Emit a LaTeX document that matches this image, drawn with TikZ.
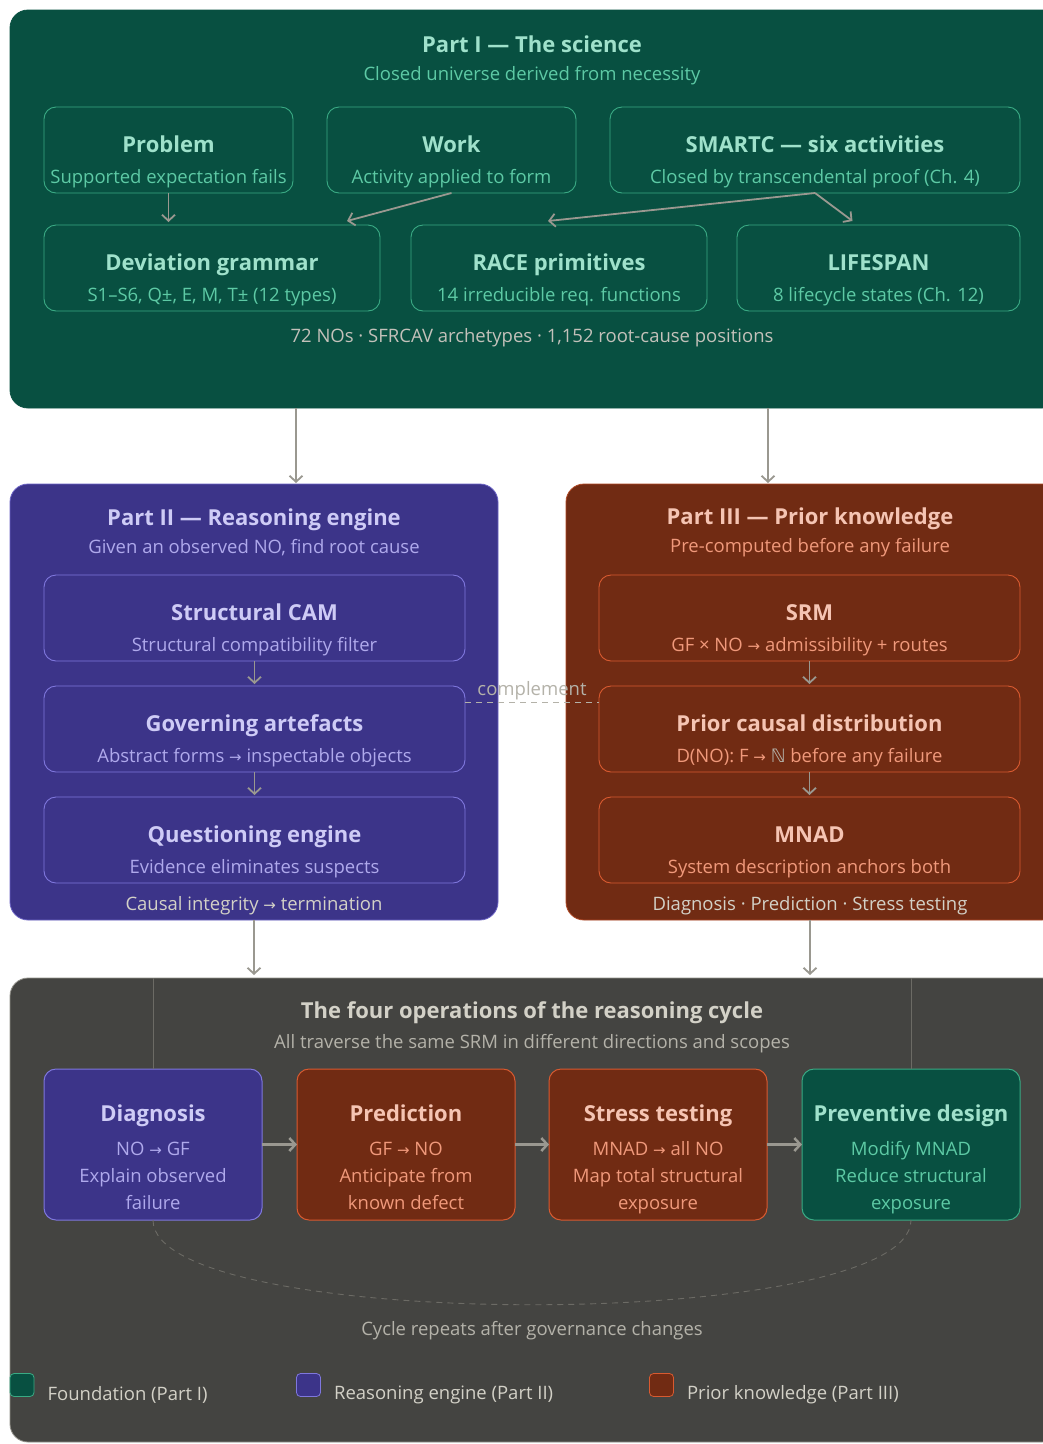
\documentclass[tikz,border=0pt]{standalone}
\usepackage{fontspec}
\setmainfont{Open Sans}
\newfontfamily\symf{DejaVu Sans}
\usetikzlibrary{arrows.meta,positioning}

\definecolor{tealbg}{HTML}{085041}
\definecolor{teallt}{HTML}{9FE1CB}
\definecolor{tealmd}{HTML}{5DCAA5}
\definecolor{tealln}{HTML}{3AAA84}
\definecolor{purbg}{HTML}{3C3489}
\definecolor{purlt}{HTML}{CECBF6}
\definecolor{purmd}{HTML}{AFA9EC}
\definecolor{purln}{HTML}{7F77DD}
\definecolor{corbg}{HTML}{712B13}
\definecolor{corlt}{HTML}{F5C4B3}
\definecolor{cormd}{HTML}{F0997B}
\definecolor{corln}{HTML}{D85A30}
\definecolor{graybg}{HTML}{444441}
\definecolor{graylt}{HTML}{D3D1C7}
\definecolor{graymd}{HTML}{B4B2A9}
\definecolor{grayln}{HTML}{6C6B65}
\definecolor{arrowgr}{HTML}{9A9890}

\newcommand{\hd}[2]{{\color{#1}\fontsize{22}{31}\selectfont\bfseries #2}}
\newcommand{\rarr}{{\symf\fontsize{15}{15}\selectfont →}}

\begin{document}
\begin{tikzpicture}[x=1pt, y=-1pt,
  panel/.style={rounded corners=18pt, inner sep=0pt, outer sep=0pt, line width=0.8pt},
  ibox/.style={rounded corners=12pt, inner sep=0pt, outer sep=0pt, line width=0.9pt, minimum height=86pt},
  opbox/.style={rounded corners=12pt, inner sep=0pt, outer sep=0pt, line width=1pt,
                minimum width=218pt, minimum height=151pt},
  txt/.style={align=center, inner sep=0pt, font=\fontsize{18.5}{31}\selectfont},
  optxt/.style={align=center, inner sep=0pt, font=\fontsize{18.5}{27}\selectfont},
  arr/.style={draw=arrowgr, line width=1.8pt, -{Straight Barb[length=6pt,width=13pt]}},
  legbox/.style={rounded corners=4pt, minimum width=24pt, minimum height=23pt, inner sep=0pt, line width=0.8pt}]
  \clip (0,0) rectangle (1043,1444);
  \fill[white] (0,0) rectangle (1043,1444);

  % Part I
  \node[panel, fill=tealbg, draw=tealbg, minimum width=1050pt, minimum height=398pt] (p1) at (535,209) {};
  \node[txt, text=tealmd, font=\fontsize{18.5}{28}\selectfont] (t1) at (532,60)
    {\hd{teallt}{Part I — The science}\\Closed universe derived from necessity};
  \node[ibox, draw=tealln, minimum width=249pt] (prob) at (168.5,150) {};
  \node[ibox, draw=tealln, minimum width=249pt] (work) at (451.5,150) {};
  \node[ibox, draw=tealln, minimum width=410pt] (smartc) at (815,150) {};
  \node[ibox, draw=tealln, minimum width=336pt] (devg) at (212,268) {};
  \node[ibox, draw=tealln, minimum width=296pt] (race) at (559,268) {};
  \node[ibox, draw=tealln, minimum width=283pt] (life) at (878.5,268) {};
  \node[txt, text=tealmd] (probT) at ([yshift=-12pt]prob.center) {\hd{teallt}{Problem}\\Supported expectation fails};
  \node[txt, text=tealmd] (workT) at ([yshift=-12pt]work.center) {\hd{teallt}{Work}\\Activity applied to form};
  \node[txt, text=tealmd] (smartcT) at ([yshift=-12pt]smartc.center) {\hd{teallt}{SMARTC — six activities}\\Closed by transcendental proof (Ch. 4)};
  \node[txt, text=tealmd] (devgT) at ([yshift=-12pt]devg.center) {\hd{teallt}{Deviation grammar}\\S1–S6, Q±, E, M, T± (12 types)};
  \node[txt, text=tealmd] (raceT) at ([yshift=-12pt]race.center) {\hd{teallt}{RACE primitives}\\14 irreducible req. functions};
  \node[txt, text=tealmd] (lifeT) at ([yshift=-12pt]life.center) {\hd{teallt}{LIFESPAN}\\8 lifecycle states (Ch. 12)};
  \node[txt, text=graymd!80!white] (f1) at (532,338) {72 NOs · SFRCAV archetypes · 1,152 root-cause positions};
  \draw[arr] (prob.south) -- ([yshift=3pt]prob.south |- devg.north);
  \draw[arr] (work.south) -- ([xshift=-33pt,yshift=4pt]devg.north east);
  \draw[arr] (smartc.south) -- ([xshift=-11pt,yshift=4pt]race.north);
  \draw[arr] (smartc.south) -- ([xshift=-26pt,yshift=4pt]life.north);

  % Part II
  \node[panel, fill=purbg, draw=purln!70!purbg, minimum width=488pt, minimum height=436pt] (p2) at (254,702) {};
  \node[txt, text=purmd, font=\fontsize{18.5}{28}\selectfont] (t2) at (254,532)
    {\hd{purlt}{Part II — Reasoning engine}\\Given an observed NO, find root cause};
  \node[ibox, draw=purln, minimum width=421pt] (cam) at (254.5,618) {};
  \node[ibox, draw=purln, minimum width=421pt] (gov) at (254.5,729) {};
  \node[ibox, draw=purln, minimum width=421pt] (que) at (254.5,840) {};
  \node[txt, text=purmd] (camT) at ([yshift=-12pt]cam.center) {\hd{purlt}{Structural CAM}\\Structural compatibility filter};
  \node[txt, text=purmd] (govT) at ([yshift=-12pt]gov.center) {\hd{purlt}{Governing artefacts}\\Abstract forms \rarr{} inspectable objects};
  \node[txt, text=purmd] (queT) at ([yshift=-12pt]que.center) {\hd{purlt}{Questioning engine}\\Evidence eliminates suspects};
  \node[txt, text=graylt] (f2) at (254,906) {Causal integrity \rarr{} termination};
  \draw[arr] (cam.south) -- ([yshift=2pt]gov.north);
  \draw[arr] (gov.south) -- ([yshift=2pt]que.north);

  % Part III
  \node[panel, fill=corbg, draw=corln!60!corbg, minimum width=494pt, minimum height=436pt] (p3) at (813,702) {};
  \node[txt, text=cormd, font=\fontsize{18.5}{28}\selectfont] (t3) at (810,532)
    {\hd{corlt}{Part III — Prior knowledge}\\Pre-computed before any failure};
  \node[ibox, draw=corln, minimum width=421pt] (srm) at (809.5,618) {};
  \node[ibox, draw=corln, minimum width=421pt] (pcd) at (809.5,729) {};
  \node[ibox, draw=corln, minimum width=421pt] (mnad) at (809.5,840) {};
  \node[txt, text=cormd] (srmT) at ([yshift=-12pt]srm.center) {\hd{corlt}{SRM}\\GF × NO \rarr{} admissibility + routes};
  \node[txt, text=cormd] (pcdT) at ([yshift=-12pt]pcd.center) {\hd{corlt}{Prior causal distribution}\\D(NO): F \rarr{} {\symf\color{graymd}ℕ} before any failure};
  \node[txt, text=cormd] (mnadT) at ([yshift=-12pt]mnad.center) {\hd{corlt}{MNAD}\\System description anchors both};
  \node[txt, text=graylt] (f3) at (810,906) {Diagnosis · Prediction · Stress testing};
  \draw[arr] (srm.south) -- ([yshift=2pt]pcd.north);
  \draw[arr] (pcd.south) -- ([yshift=2pt]mnad.north);

  % complement link
  \draw[graymd, dash pattern=on 6pt off 5pt, line width=0.9pt] ([yshift=-16pt]gov.north east) --
    node[above, inner sep=2pt, text=graymd, font=\fontsize{18.5}{22}\selectfont] (comp) {complement}
    ([yshift=-16pt]pcd.north west);

  % Part I to II and III
  \draw[arr] (p1.south -| 296,0) -- ([yshift=1pt]p2.north -| 296,0);
  \draw[arr] (p1.south -| 768,0) -- ([yshift=1pt]p3.north -| 768,0);

  % operations
  \node[panel, fill=graybg, draw=graymd!70!graybg, minimum width=1050pt, minimum height=464pt] (p4) at (535,1210) {};
  \draw[arr] (p2.south) -- ([yshift=3pt]p2.south |- p4.north);
  \draw[arr] (p3.south -| 810,0) -- ([yshift=3pt]p4.north -| 810,0);
  \node[txt, text=graymd, font=\fontsize{18.5}{30}\selectfont] (t4) at (532,1027)
    {\hd{graylt}{The four operations of the reasoning cycle}\\All traverse the same SRM in different directions and scopes};
  \node[opbox, fill=purbg, draw=purln] (diag) at (153,1144.5) {};
  \node[opbox, fill=corbg, draw=corln] (pred) at (406,1144.5) {};
  \node[opbox, fill=corbg, draw=corln] (stress) at (658,1144.5) {};
  \node[opbox, fill=tealbg, draw=tealln] (prev) at (911,1144.5) {};
  \node[optxt, text=purmd] (diagT) at ([yshift=-13pt]diag.center)
    {\hd{purlt}{Diagnosis}\\[7pt]NO \rarr{} GF\\Explain observed\\failure};
  \node[optxt, text=cormd] (predT) at ([yshift=-13pt]pred.center)
    {\hd{corlt}{Prediction}\\[7pt]GF \rarr{} NO\\Anticipate from\\known defect};
  \node[optxt, text=cormd] (stressT) at ([yshift=-15pt]stress.center)
    {\hd{corlt}{Stress testing}\\[7pt]MNAD \rarr{} all NO\\Map total structural\\exposure};
  \node[optxt, text=tealmd] (prevT) at ([yshift=-15pt]prev.center)
    {\hd{teallt}{Preventive design}\\[7pt]Modify MNAD\\Reduce structural\\exposure};
  \draw[arr, line width=2.5pt] (diag.east) -- (pred.west);
  \draw[arr, line width=2.5pt] (pred.east) -- (stress.west);
  \draw[arr, line width=2.5pt] (stress.east) -- (prev.west);
  \draw[grayln, line width=0.8pt] (diag.north) -- (diag.north |- p4.north);
  \draw[grayln, line width=0.8pt] (prev.north) -- (prev.north |- p4.north);
  \draw[grayln, dash pattern=on 6pt off 5pt, line width=0.9pt] (diag.south) .. controls ([yshift=-113pt]diag.south)
    and ([yshift=-113pt]prev.south) .. (prev.south);
  \node[txt, text=graymd] (cyc) at (532,1331) {Cycle repeats after governance changes};

  % legend
  \node[legbox, fill=tealbg, draw=tealln] (lg1) at (22,1385) {};
  \node[legbox, fill=purbg, draw=purln] (lg2) at (308.5,1385) {};
  \node[legbox, fill=corbg, draw=corln] (lg3) at (661.5,1385) {};
  \node[txt, text=graylt, right=13pt of lg1, yshift=-10pt] (lg1T) {Foundation (Part I)};
  \node[txt, text=graylt, right=13pt of lg2, yshift=-10pt] (lg2T) {Reasoning engine (Part II)};
  \node[txt, text=graylt, right=13pt of lg3, yshift=-10pt] (lg3T) {Prior knowledge (Part III)};
\end{tikzpicture}
\end{document}
